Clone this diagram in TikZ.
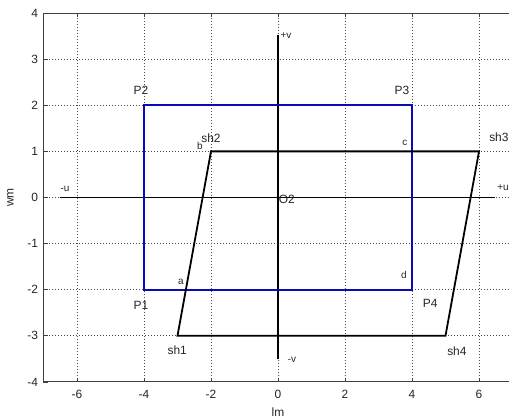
\documentclass[tikz,border=0pt]{standalone}
\usepackage{fontspec}
\setmainfont{Liberation Sans}
\definecolor{rectblue}{RGB}{10,10,185}
\begin{document}
\begin{tikzpicture}[x=33.5bp,y=46.1bp,
  lbl/.style={font=\fontsize{12}{14}\selectfont, inner sep=0pt, text=black!85},
  small/.style={font=\fontsize{10}{12}\selectfont, inner sep=0pt, text=black!85},
  gridline/.style={black!70, line width=0.7bp, dash pattern=on 0.8bp off 2.2bp},
  frame/.style={black!75, line width=0.9bp},
  tickmark/.style={black!75, line width=0.8bp},
  shapeline/.style={black, line width=1.8bp, line join=miter},
  rectline/.style={rectblue, line width=1.8bp, line join=miter},
  axisline/.style={black, line width=1.8bp}]
\useasboundingbox (-8.2985,-4.7831) rectangle (6.8955,4.2842);
\fill[white] (-8.2985,-4.7831) rectangle (6.8955,4.2842);
\clip (-8.2985,-4.7831) rectangle (6.8955,4.2842);
% grid
\foreach \gx in {-6,-4,-2,0,2,4,6} \draw[gridline] (\gx,-4) -- (\gx,4);
\foreach \gy in {-3,...,3} \draw[gridline] (-7,\gy) -- (7,\gy);
% frame
\coordinate (BL) at (-7,-4);
\coordinate (TL) at (-7,4);
\coordinate (BR) at (7,-4);
\coordinate (TR) at (7,4);
\draw[frame] (BR) -- (BL) -- (TL) -- (TR);
% ticks
\foreach \tx in {-6,-4,-2,0,2,4,6} {
  \draw[tickmark] (\tx,-4) -- ++(0,0.09);
  \draw[tickmark] (\tx,4) -- ++(0,-0.09);
  \node[lbl, anchor=center] (xt\tx) at (\tx,-4.28) {\tx};
}
\foreach \ty in {-4,...,4} {
  \draw[tickmark] (-7,\ty) -- ++(0.12,0);
  \node[lbl, anchor=east] (yt\ty) at (-7.16,\ty) {\ty};
}
% axis labels
\node[lbl] (xlab) at (0,-4.65) {lm};
\node[lbl, rotate=90] (ylab) at (-7.99,0) {wm};
% axes
\coordinate (mu) at (-6.51,0);
\coordinate (pu) at (6.48,0);
\coordinate (pv) at (0,3.52);
\coordinate (mv) at (0,-3.50);
\draw[axisline] (mu) -- (pu);
\draw[axisline] (mv) -- (pv);
% blue rectangle
\coordinate (P1) at (-4,-2);
\coordinate (P2) at (-4,2);
\coordinate (P3) at (4,2);
\coordinate (P4) at (4,-2);
\draw[rectline] (P1) -- (P2) -- (P3) -- (P4) -- cycle;
% parallelogram
\coordinate (sh1) at (-3,-3);
\coordinate (sh2) at (-2,1);
\coordinate (sh3) at (6,1);
\coordinate (sh4) at (5,-3);
\draw[shapeline] (sh1) -- (sh2) -- (sh3) -- (sh4) -- cycle;
% labels
\node[lbl] (lP2) at (-4.09,2.33) {P2};
\node[lbl] (lP3) at (3.70,2.33) {P3};
\node[lbl] (lP1) at (-4.09,-2.33) {P1};
\node[lbl] (lP4) at (4.54,-2.29) {P4};
\node[lbl] (lsh1) at (-3.01,-3.31) {sh1};
\node[lbl] (lsh4) at (5.34,-3.33) {sh4};
\node[lbl] (lsh2) at (-2.0,1.29) {sh2};
\node[lbl, anchor=west] (lsh3) at (6.30,1.31) {sh3};
\node[small] (lb) at (-2.33,1.12) {b};
\node[small] (lc) at (3.79,1.18) {c};
\node[small] (ld) at (3.76,-1.68) {d};
\node[small] (la) at (-2.90,-1.83) {a};
\node[small] (lmu) at (-6.36,0.18) {-u};
\node[small, anchor=west] (lpu) at (6.54,0.21) {+u};
\node[small] (lpv) at (0.24,3.51) {+v};
\node[small] (lmv) at (0.42,-3.52) {-v};
\node[lbl, anchor=west] (lO) at (0.02,-0.05) {O2};
\end{tikzpicture}
\end{document}
